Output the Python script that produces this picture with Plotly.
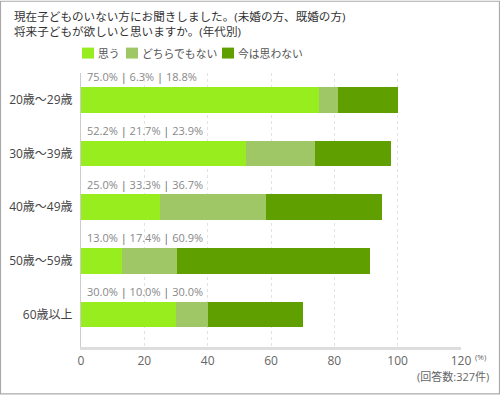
import plotly.graph_objects as go

categories = ["20歳～29歳", "30歳～39歳", "40歳～49歳", "50歳～59歳", "60歳以上"]
series_names = ["思う", "どちらでもない", "今は思わない"]
omou = [75.0, 52.2, 25.0, 13.0, 30.0]
dochira = [6.3, 21.7, 33.3, 17.4, 10.0]
omowanai = [18.8, 23.9, 36.7, 60.9, 30.0]
colors = ["#97ED1E", "#9FC766", "#5FA000"]
x_ticks = [0, 20, 40, 60, 80, 100, 120]
title_lines = ["現在子どものいない方にお聞きしました。(未婚の方、既婚の方)",
               "将来子どもが欲しいと思いますか。(年代別)"]
note = "(回答数:327件)"

FONT = "Open Sans, Noto Sans CJK JP"
W, H = 500, 395
L, R, T, B = 81, 39, 72.5, 47.5
pw, ph = W - L - R, H - T - B

def px(x):
    return (x - L) / pw

def py(y):
    return (H - B - y) / ph

fig = go.Figure()
for name, vals, c in zip(series_names, [omou, dochira, omowanai], colors):
    fig.add_trace(go.Bar(y=categories, x=vals, name=name, orientation="h",
                         marker=dict(color=c, line=dict(width=0)), showlegend=False,
                         hoverinfo="x+name"))

annotations = []
sep = " <span style='color:#666'>|</span> "
for cat, a, b, c in zip(categories, omou, dochira, omowanai):
    annotations.append(dict(x=0, y=cat, xref="x", yref="y", xanchor="left", yanchor="middle",
                            xshift=4, yshift=23, showarrow=False,
                            text=f"{a:.1f}%{sep}{b:.1f}%{sep}{c:.1f}%",
                            font=dict(family=FONT, size=11, color="#888")))

# title
annotations.append(dict(x=px(12), y=py(23), xref="paper", yref="paper",
                        xanchor="left", yanchor="middle", align="left", showarrow=False,
                        text="<br>".join(title_lines),
                        font=dict(family=FONT, size=11.6, color="#333")))

shapes = []
# legend
leg = [(82, 96), (126, 140), (222, 236)]
for (sx, tx), name, c in zip(leg, series_names, colors):
    shapes.append(dict(type="rect", xref="paper", yref="paper", x0=px(sx), x1=px(sx + 12),
                       y0=py(58), y1=py(47), fillcolor=c, line=dict(width=0)))
    annotations.append(dict(x=px(tx), y=py(52.5), xref="paper", yref="paper", xanchor="left",
                            yanchor="middle", showarrow=False, text=name,
                            font=dict(family=FONT, size=10.8, color="#555")))

annotations.append(dict(x=px(473), y=py(357.5), xref="paper", yref="paper", xanchor="left",
                        yanchor="middle", showarrow=False, text="(%)",
                        font=dict(family=FONT, size=8, color="#666")))
annotations.append(dict(x=px(491), y=py(377), xref="paper", yref="paper", xanchor="right",
                        yanchor="middle", showarrow=False, text=note,
                        font=dict(family=FONT, size=11, color="#666")))

# border
shapes.append(dict(type="rect", xref="paper", yref="paper", x0=px(0.5), x1=px(499.5),
                   y0=py(394.5), y1=py(0.5), line=dict(color="#AAAAAA", width=1.2),
                   fillcolor="rgba(0,0,0,0)", layer="above"))

fig.update_layout(
    width=W, height=H, margin=dict(l=L, r=R, t=T, b=B, pad=0, autoexpand=False),
    paper_bgcolor="white", plot_bgcolor="white",
    barmode="stack", bargap=0.527,
    annotations=annotations, shapes=shapes,
    xaxis=dict(range=[0, 120], tickvals=x_ticks, showgrid=True, gridcolor="#E2E2E2",
               griddash="dot", gridwidth=1, zeroline=False, showline=True,
               linecolor="#DDDDDD", linewidth=3, ticks="", fixedrange=True,
               automargin=False, ticklabelstandoff=1,
               tickfont=dict(family=FONT, size=12, color="#666")),
    yaxis=dict(categoryorder="array", categoryarray=categories, autorange="reversed",
               showline=True, linecolor="#CCCCCC", linewidth=1, showgrid=False,
               ticks="", ticklabelstandoff=5, fixedrange=True, automargin=False,
               tickfont=dict(family=FONT, size=12, color="#444")),
)

fig.write_html("out.html", config={"displayModeBar": False},
               post_script="document.body.style.margin='0';document.body.style.overflow='hidden';")
